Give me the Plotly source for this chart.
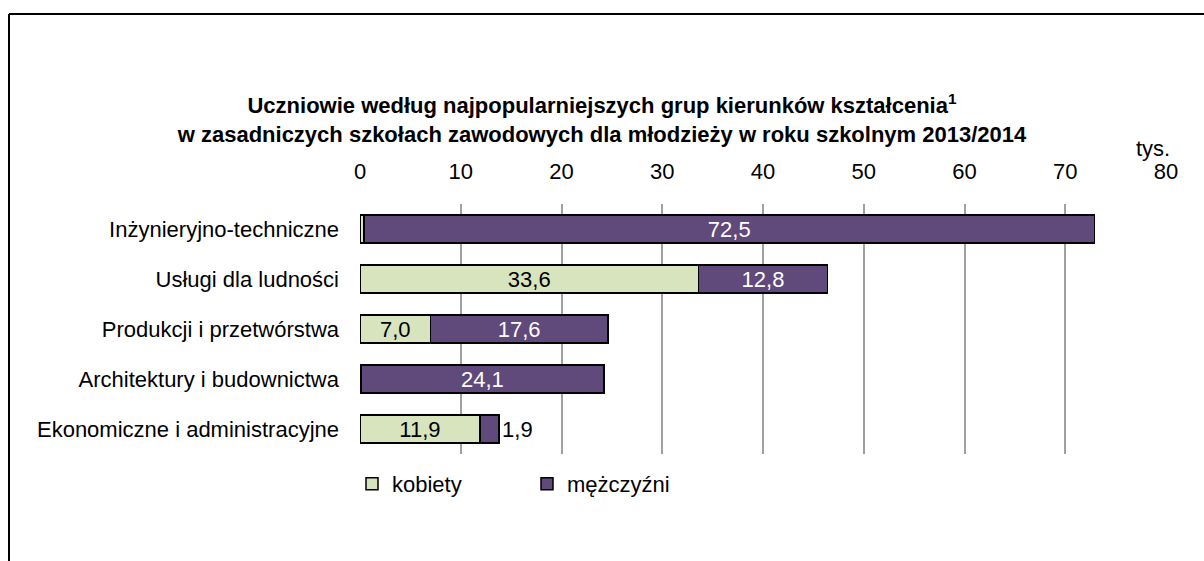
import plotly.graph_objects as go

categories = ["Inżynieryjno-techniczne", "Usługi dla ludności", "Produkcji i przetwórstwa",
              "Architektury i budownictwa", "Ekonomiczne i administracyjne"]
kobiety = [0.4, 33.6, 7.0, 0.1, 11.9]
mezczyzni = [72.5, 12.8, 17.6, 24.1, 1.9]
x_ticks = [0, 10, 20, 30, 40, 50, 60, 70, 80]

FONT = "Liberation Sans Narrow, Arial Narrow, Liberation Sans, Arial, sans-serif"
FS = 22

def fmt(v):
    return f"{v:.1f}".replace(".", ",")

k_text = [fmt(v) if v >= 1 else "" for v in kobiety]
m_text = [fmt(v) for v in mezczyzni]
m_pos = ["inside" if v >= 3 else "outside" for v in mezczyzni]

fig = go.Figure()
fig.add_trace(go.Bar(
    y=categories, x=kobiety, orientation="h", name="kobiety",
    marker=dict(color="#D7E4BD", line=dict(color="#000000", width=1.5)),
    text=k_text, textposition="inside", insidetextanchor="middle",
    textfont=dict(color="#000000", size=FS, family=FONT),
    hoverinfo="skip",
))
fig.add_trace(go.Bar(
    y=categories, x=mezczyzni, orientation="h", name="mężczyźni",
    marker=dict(color="#604A7B", line=dict(color="#000000", width=1.5)),
    text=m_text, textposition=m_pos, insidetextanchor="middle",
    insidetextfont=dict(color="#FFFFFF", size=FS, family=FONT),
    outsidetextfont=dict(color="#000000", size=FS, family=FONT),
    cliponaxis=False, hoverinfo="skip",
))

L, R, T, B = 360, 38, 204, 107
W, H = 1204, 561
pw = W - L - R
ph = H - T - B

def px_x(p):
    return (p - L) / pw

def px_y(p):
    return (H - B - p) / ph

fig.update_layout(
    width=W, height=H,
    barmode="stack", bargap=0.44,
    margin=dict(l=L, r=R, t=T, b=B),
    plot_bgcolor="white", paper_bgcolor="white",
    font=dict(family=FONT, size=FS, color="#000000"),
    title=dict(
        text="<b>Uczniowie według najpopularniejszych grup kierunków kształcenia<sup>1</sup><br>"
             "w zasadniczych szkołach zawodowych dla młodzieży w roku szkolnym 2013/2014</b>",
        x=0.5, xanchor="center", xref="container",
        y=1 - 113 / H, yanchor="middle", yref="container",
        font=dict(family=FONT, size=22, color="#000000"),
    ),
    legend=dict(
        orientation="h", x=px_x(352), xanchor="left",
        y=px_y(484), yanchor="middle",
        font=dict(family=FONT, size=FS),
        traceorder="normal", itemwidth=30,
        entrywidth=130, entrywidthmode="pixels",
    ),
    xaxis=dict(
        side="top", range=[0, 80], tickvals=x_ticks,
        showgrid=True, gridcolor="#A0A0A0", gridwidth=1.5,
        zeroline=False, showline=False,
        ticks="", ticklabelstandoff=20,
        tickfont=dict(family=FONT, size=FS),
    ),
    yaxis=dict(
        autorange="reversed", showgrid=False, zeroline=False, showline=False,
        ticks="", ticklabelstandoff=20,
        tickfont=dict(family=FONT, size=FS),
    ),
    showlegend=True,
    uniformtext=dict(mode="show", minsize=FS),
    annotations=[
        dict(text="tys.", x=px_x(1153), y=px_y(148), xref="paper", yref="paper",
             showarrow=False, font=dict(family=FONT, size=FS), xanchor="center", yanchor="middle"),
    ],
    shapes=[
        dict(type="line", xref="paper", yref="paper", x0=px_x(9), x1=px_x(1215),
             y0=px_y(14), y1=px_y(14), line=dict(color="#000000", width=2)),
        dict(type="line", xref="paper", yref="paper", x0=px_x(9), x1=px_x(9),
             y0=px_y(14), y1=px_y(575), line=dict(color="#000000", width=2)),
    ],
)

fig.write_html("out.html", config={"displayModeBar": False},
               post_script="document.body.style.margin='0px';")
